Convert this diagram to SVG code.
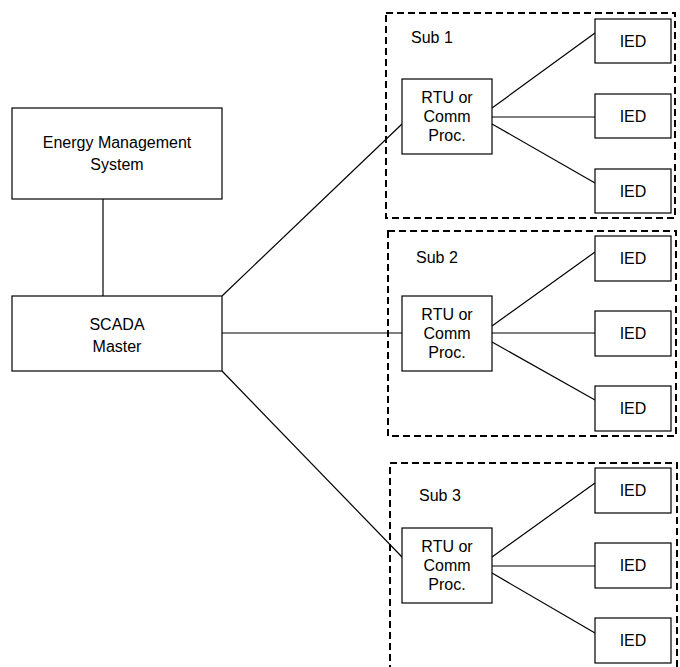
<svg xmlns="http://www.w3.org/2000/svg" width="680" height="667" viewBox="0 0 680 667">
<style>
.box{fill:#fff;stroke:#000;stroke-width:1.2}
.sub{fill:none;stroke:#000;stroke-width:2;stroke-dasharray:7,4}
.con line{stroke:#000;stroke-width:1.2}
text{font-family:"Liberation Sans",Arial,sans-serif;font-size:16px;fill:#000;text-anchor:middle}
.lbl{text-anchor:start}
</style>
<rect width="680" height="667" fill="#fff"/>
<g id="sub1"><rect class="sub" x="386" y="13" width="289" height="205"/><text class="lbl" x="411" y="43">Sub 1</text></g>
<g id="sub2"><rect class="sub" x="388" y="231" width="288" height="205"/><text class="lbl" x="416" y="263">Sub 2</text></g>
<g id="sub3"><rect class="sub" x="390" y="463" width="287" height="230"/><text class="lbl" x="419" y="501">Sub 3</text></g>
<g class="con" id="connectors">
<line x1="103" y1="199" x2="103" y2="296"/>
<line x1="222" y1="296" x2="402" y2="124"/>
<line x1="222" y1="333" x2="402" y2="333"/>
<line x1="222" y1="371" x2="402" y2="557"/>
<line x1="492" y1="108" x2="595" y2="33"/>
<line x1="492" y1="117" x2="595" y2="117"/>
<line x1="492" y1="124" x2="595" y2="183"/>
<line x1="492" y1="326" x2="595" y2="252"/>
<line x1="492" y1="333" x2="595" y2="333"/>
<line x1="492" y1="342" x2="595" y2="400"/>
<line x1="492" y1="557" x2="595" y2="483"/>
<line x1="492" y1="566" x2="595" y2="566"/>
<line x1="492" y1="573" x2="595" y2="633"/>
</g>
<g id="ems"><rect class="box" x="12" y="108" width="210" height="91"/><text x="117" y="148">Energy Management</text><text x="117" y="170">System</text></g>
<g id="scada"><rect class="box" x="12" y="296" width="210" height="75"/><text x="117" y="330">SCADA</text><text x="117" y="352">Master</text></g>
<g id="rtu1"><rect class="box" x="402" y="79" width="90" height="75"/><text x="447" y="103">RTU or</text><text x="447" y="122">Comm</text><text x="447" y="141">Proc.</text></g>
<g id="rtu2"><rect class="box" x="402" y="296" width="90" height="75"/><text x="447" y="320">RTU or</text><text x="447" y="339">Comm</text><text x="447" y="358">Proc.</text></g>
<g id="rtu3"><rect class="box" x="402" y="528" width="90" height="75"/><text x="447" y="552">RTU or</text><text x="447" y="571">Comm</text><text x="447" y="590">Proc.</text></g>
<g id="ied1a"><rect class="box" x="595" y="19" width="76" height="44"/><text x="633" y="47">IED</text></g>
<g id="ied1b"><rect class="box" x="595" y="94" width="76" height="44"/><text x="633" y="122">IED</text></g>
<g id="ied1c"><rect class="box" x="595" y="169" width="76" height="44"/><text x="633" y="197">IED</text></g>
<g id="ied2a"><rect class="box" x="595" y="236" width="76" height="45"/><text x="633" y="264">IED</text></g>
<g id="ied2b"><rect class="box" x="595" y="311" width="76" height="45"/><text x="633" y="339">IED</text></g>
<g id="ied2c"><rect class="box" x="595" y="386" width="76" height="45"/><text x="633" y="414">IED</text></g>
<g id="ied3a"><rect class="box" x="595" y="468" width="76" height="45"/><text x="633" y="496">IED</text></g>
<g id="ied3b"><rect class="box" x="595" y="543" width="76" height="45"/><text x="633" y="571">IED</text></g>
<g id="ied3c"><rect class="box" x="595" y="618" width="76" height="45"/><text x="633" y="646">IED</text></g>
</svg>
